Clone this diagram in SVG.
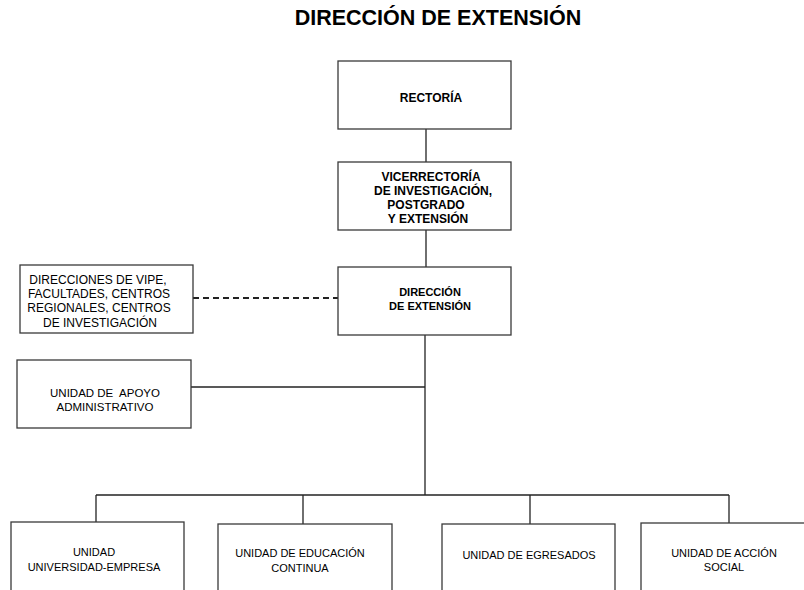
<svg xmlns="http://www.w3.org/2000/svg" width="804" height="590" viewBox="0 0 804 590">
<style>
.box{fill:#fff;stroke:#3a3a3a;stroke-width:1.3}
.ln{fill:none;stroke:#222;stroke-width:1.3}
.dash{fill:none;stroke:#222;stroke-width:2;stroke-dasharray:6 4}
text{font-family:"Liberation Sans",Arial,sans-serif;fill:#000;text-anchor:middle}
.t{font-size:21.5px;font-weight:bold}
.s12{font-size:12px}
.s11{font-size:11px}
.s115{font-size:11.5px;white-space:pre}
.b12{font-size:12px;font-weight:bold}
.b11{font-size:11px;font-weight:bold}
</style>
<rect width="804" height="590" fill="#fff"/>
<text class="t" x="438" y="25">DIRECCIÓN DE EXTENSIÓN</text>
<g id="connectors">
<line class="ln" x1="426" y1="129" x2="426" y2="162"/>
<line class="ln" x1="426" y1="230" x2="426" y2="267"/>
<line class="ln" x1="425" y1="335" x2="425" y2="495"/>
<line class="ln" x1="191" y1="387" x2="425" y2="387"/>
<line class="dash" x1="193" y1="298" x2="338" y2="298"/>
<line class="ln" x1="96" y1="495" x2="729" y2="495"/>
<line class="ln" x1="96" y1="495" x2="96" y2="522"/>
<line class="ln" x1="303" y1="495" x2="303" y2="524"/>
<line class="ln" x1="530" y1="495" x2="530" y2="524"/>
<line class="ln" x1="729" y1="495" x2="729" y2="523"/>
</g>
<g id="rectoria">
<rect class="box" x="338" y="61" width="173" height="68"/>
<text class="b12" x="431" y="102">RECTORÍA</text>
</g>
<g id="vicerrectoria">
<rect class="box" x="338" y="162" width="173" height="68"/>
<text class="b12" x="431" y="181">VICERRECTORÍA</text>
<text class="b12" x="433" y="195">DE INVESTIGACIÓN,</text>
<text class="b12" x="426" y="209">POSTGRADO</text>
<text class="b12" x="428" y="223">Y EXTENSIÓN</text>
</g>
<g id="direccion">
<rect class="box" x="338" y="267" width="173" height="68"/>
<text class="b11" x="430" y="296">DIRECCIÓN</text>
<text class="b11" x="430" y="310">DE EXTENSIÓN</text>
</g>
<g id="direcciones-vipe">
<rect class="box" x="20" y="265" width="173" height="68"/>
<text class="s12" x="98" y="284">DIRECCIONES DE VIPE,</text>
<text class="s12" x="99" y="298">FACULTADES, CENTROS</text>
<text class="s12" x="99" y="312">REGIONALES, CENTROS</text>
<text class="s12" x="100" y="327">DE INVESTIGACIÓN</text>
</g>
<g id="apoyo">
<rect class="box" x="17" y="360" width="174" height="68"/>
<text class="s115" x="105" y="397" xml:space="preserve">UNIDAD DE  APOYO</text>
<text class="s115" x="105" y="411">ADMINISTRATIVO</text>
</g>
<g id="universidad-empresa">
<rect class="box" x="11" y="522" width="173" height="80"/>
<text class="s11" x="94" y="555.5">UNIDAD</text>
<text class="s11" x="94" y="570.5">UNIVERSIDAD-EMPRESA</text>
</g>
<g id="educacion-continua">
<rect class="box" x="218" y="524" width="174" height="80"/>
<text class="s11" x="300" y="557">UNIDAD DE EDUCACIÓN</text>
<text class="s11" x="300" y="572">CONTINUA</text>
</g>
<g id="egresados">
<rect class="box" x="442" y="524" width="173" height="80"/>
<text class="s11" x="529" y="559">UNIDAD DE EGRESADOS</text>
</g>
<g id="accion-social">
<rect class="box" x="641" y="523" width="174" height="80"/>
<text class="s11" x="724" y="557">UNIDAD DE ACCIÓN</text>
<text class="s11" x="724" y="571">SOCIAL</text>
</g>
</svg>
